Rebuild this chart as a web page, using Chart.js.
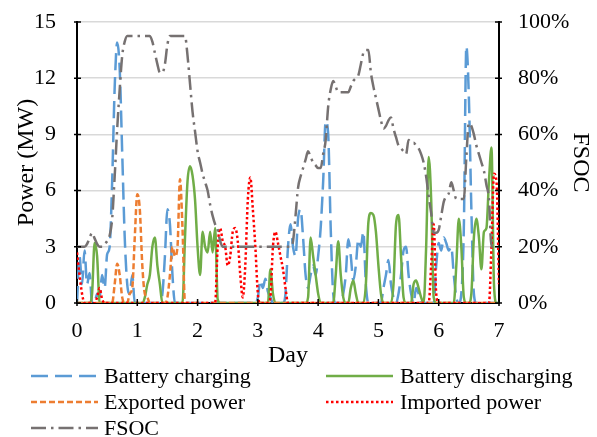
<!DOCTYPE html>
<html>
<head>
<meta charset="utf-8">
<script src="https://cdn.jsdelivr.net/npm/chart.js@4"></script>
<style>
  html, body { margin: 0; padding: 0; background: #fff; }
  #wrap { width: 597px; height: 437px; }
</style>
</head>
<body>
<div id="wrap"><canvas id="powerChart" width="597" height="437"></canvas></div>
<script>
// hourly values over one week, one row per day (last entry is hour 168)
const charging = [
  0, 2.5, 1.0, 2.8, 1.0, 1.6, 0, 0, 0.5, 0.3, 1.5, 0.8, 2.6, 3.0, 6.5, 11.5, 13.9, 12.5, 8.0, 3.5, 1.0, 0.5, 1.5, 0,
  0, 0, 0, 0, 0, 0, 0, 0, 0, 0, 0.5, 2.5, 5.0, 4.2, 1.5, 0, 0, 0, 0, 0, 0, 0, 0, 0,
  0, 0, 0, 0, 0, 0, 0, 0, 0, 0, 0, 0, 0, 0, 0, 0, 0, 0, 0, 0, 0, 0, 0, 0,
  0.3, 1.2, 0.8, 1.3, 0.6, 0.3, 0, 0, 0, 0, 0, 0.5, 3.0, 4.2, 3.0, 2.5, 4.5, 5.0, 3.5, 1.5, 0.8, 1.5, 2.0, 1.5,
  2.5, 4.0, 6.5, 9.7, 9.0, 4.0, 0.5, 0, 0, 0, 0.5, 1.5, 3.4, 2.5, 1.2, 2.0, 3.4, 3.0, 3.8, 1.0, 0, 0, 0, 0,
  0, 0, 0.8, 1.5, 2.3, 1.0, 0.3, 0, 0.5, 1.5, 2.8, 3.0, 1.5, 0.5, 0, 0.8, 0.5, 0, 0, 0, 0, 0, 0, 2.0,
  3.2, 2.8, 3.5, 3.2, 2.8, 3.0, 1.5, 0.3, 0, 0.5, 4.0, 13.7, 11.0, 5.0, 0.5, 0, 0, 0, 0, 0, 0, 0, 0, 0,
  0
];
const discharging = [
  0, 0, 0, 0, 0, 0, 0.5, 3.2, 2.5, 0, 0, 0, 0, 0, 0, 0, 0, 0, 0, 0, 0, 0, 0, 0,
  0, 0, 0, 0.3, 1.0, 1.5, 3.0, 3.5, 2.0, 1.0, 0, 0, 0, 0, 0, 0, 0, 0, 0, 3.5, 6.5, 7.3, 6.8, 5.5,
  3.0, 1.5, 3.8, 3.0, 2.7, 3.8, 2.7, 4.0, 0.2, 0, 0, 0, 0, 0, 0, 0, 0, 0, 0, 0, 0, 0, 0, 0,
  0, 0, 0, 0, 0, 1.8, 0.5, 0, 0, 0, 0, 0, 0, 0, 0, 0, 0, 0, 0, 0, 0.3, 3.5, 2.5, 1.5,
  0.5, 0, 0, 0, 0, 0, 0, 1.5, 3.3, 1.5, 0.3, 0, 0, 0.8, 1.2, 0.5, 0, 0, 0, 1.0, 4.3, 4.8, 4.7, 3.8,
  2.0, 0.5, 0, 0, 0, 0, 1.0, 4.2, 4.7, 2.5, 0.3, 0, 0, 0, 1.0, 1.2, 0.8, 0.3, 0, 3.0, 7.8, 5.5, 0.3, 0,
  0, 0, 0, 0, 0, 0, 0, 2.0, 4.5, 3.0, 0.3, 0, 0, 0.5, 3.5, 4.5, 3.5, 1.8, 3.8, 4.0, 6.5, 8.3, 1.0, 0,
  0
];
const exported = [
  0, 0, 0, 0, 0, 0, 0, 0, 0, 0, 0, 0, 0, 0, 0, 1.0, 2.1, 1.5, 0.3, 0, 0, 0.5, 0.8, 3.5,
  5.8, 5.0, 2.0, 0.5, 0.3, 0, 0, 0, 0, 0, 0, 0, 0.3, 1.5, 3.0, 2.5, 3.0, 6.6, 4.0, 0, 0, 0, 0, 0,
  0, 0, 0, 0, 0, 0, 0, 0, 0, 0, 0, 0, 0, 0, 0, 0, 0, 0, 0, 0, 0, 0, 0, 0,
  0, 0, 0, 0, 0, 0, 0, 0, 0, 0, 0, 0, 0, 0, 0, 0, 0, 0, 0, 0, 0, 0, 0, 0,
  0, 0, 0, 0, 0, 0, 0, 0, 0, 0, 0, 0, 0, 0, 0, 0, 0, 0, 0, 0, 0, 0, 0, 0,
  0, 0, 0, 0, 0, 0, 0, 0, 0, 0, 0, 0, 0, 0, 0, 0, 0, 0, 0, 0, 0, 0, 0, 0,
  0, 0, 0, 0, 0, 0, 0, 0, 0, 0, 0, 0, 0, 0, 0, 0, 0, 0, 0, 0, 0, 0, 0, 0,
  0
];
const imported = [
  2.7, 1.5, 0.5, 0, 0, 0, 0, 0, 0.3, 0.8, 0.2, 0, 0, 0, 0, 0, 0, 0, 0, 0, 0, 0, 0, 0,
  0, 0, 0, 0, 0, 0, 0, 0, 0, 0, 0, 0, 0, 0, 0, 0, 0, 0, 0, 0, 0, 0, 0, 0,
  0, 0, 0, 0, 0, 0, 0, 0, 3.0, 4.0, 3.3, 3.0, 2.0, 2.5, 3.8, 4.0, 3.3, 1.5, 0.3, 2.0, 5.5, 6.7, 5.0, 3.0,
  0.5, 0, 0, 0, 0, 0.3, 3.0, 3.8, 3.2, 2.5, 1.8, 0.8, 0, 0, 0, 0, 0, 0, 0, 0, 0, 0, 0, 0,
  0, 0, 0, 0, 0, 0, 0, 0, 0, 0, 0, 0, 0, 0, 0, 0, 0, 0, 0, 0, 0, 0, 0, 0,
  0, 0, 0, 0, 0, 0, 0, 0, 0, 0, 0, 0, 0, 0, 0, 0, 0, 0, 0, 0, 0, 2.0, 4.2, 0.5,
  0, 0, 0, 0, 0, 0, 0, 0, 0, 0, 0, 0, 0, 0, 0, 0, 0, 0, 0, 0, 0, 3.0, 6.9, 6.5,
  1.0
];
// state of charge, percent
const fsoc = [
  20, 20, 20, 20, 21, 23, 25, 23, 21, 20, 20, 21, 22, 24, 30, 45, 62, 76, 88, 93, 95, 95, 95, 95,
  95, 95, 95, 95, 95, 95, 93, 89, 85, 82, 82, 85, 92, 95, 95, 95, 95, 95, 95, 95, 88, 78, 68, 61,
  54, 50, 46, 43, 40, 35, 31, 28, 26, 22, 20, 20, 20, 20, 20, 20, 20, 20, 20, 20, 20, 20, 20, 20,
  20, 20, 20, 20, 20, 20, 20, 20, 20, 20, 20, 20, 20, 20, 22, 31, 41, 45, 48, 51, 54, 52, 50, 49,
  48, 48, 53, 58, 70, 76, 79, 77, 75, 75, 75, 75, 75, 77, 79, 80, 81, 85, 89, 90, 90, 82, 77, 73,
  69, 65, 62, 63, 65, 66, 62, 59, 56, 55, 54, 53, 58, 57, 57, 56, 55, 53, 50, 45, 38, 32, 25, 25,
  26, 31, 36, 38, 39, 43, 40, 37, 37, 37, 37, 52, 64, 63, 60, 56, 53, 50, 47, 42, 37, 20, 20, 20,
  20
];

const seriesNames = ['Battery charging', 'Battery discharging', 'Exported power', 'Imported power', 'FSOC'];
const colors = ['#5B9BD5', '#70AD47', '#ED7D31', '#FF0000', '#767171'];
const dashes = [[17, 7], [], [6, 3], [2.5, 2.5], [15, 5, 2.5, 5]];

const serif = "'Liberation Serif', 'Times New Roman', serif";
Chart.defaults.font.family = serif;
Chart.defaults.color = '#000';

// hour index -> day
const toPoints = arr => arr.map((v, i) => ({ x: i / 24, y: v }));

function line(idx, data, axis, order) {
  return {
    label: seriesNames[idx],
    data: toPoints(data),
    yAxisID: axis,
    borderColor: colors[idx],
    backgroundColor: colors[idx],
    borderWidth: 2.5,
    borderDash: dashes[idx],
    pointRadius: 0,
    cubicInterpolationMode: 'monotone',
    order: order
  };
}

// vertical axes: fixed width, no extra room above/below for labels
const fixWidth = w => s => {
  s.width = w;
  s.paddingTop = 0;
  s.paddingBottom = 0;
};

// short tick marks crossing each axis line
const tickMarks = {
  id: 'tickMarks',
  afterDraw(chart) {
    const { ctx, chartArea: a, scales } = chart;
    ctx.save();
    ctx.strokeStyle = '#000';
    ctx.lineWidth = 1.5;
    ctx.beginPath();
    scales.y.ticks.forEach(t => {
      const p = scales.y.getPixelForValue(t.value);
      ctx.moveTo(a.left - 3, p); ctx.lineTo(a.left + 4, p);
    });
    scales.y1.ticks.forEach(t => {
      const p = scales.y1.getPixelForValue(t.value);
      ctx.moveTo(a.right - 4, p); ctx.lineTo(a.right + 3, p);
    });
    scales.x.ticks.forEach(t => {
      const p = scales.x.getPixelForValue(t.value);
      ctx.moveTo(p, a.bottom - 4); ctx.lineTo(p, a.bottom + 3);
    });
    ctx.stroke();
    ctx.restore();
  }
};

// two-column legend under the axis title
const bottomLegend = {
  id: 'bottomLegend',
  afterDraw(chart) {
    const ctx = chart.ctx;
    const cols = [{ x0: 31, x1: 98, tx: 104 }, { x0: 326, x1: 393, tx: 400 }];
    const rows = [376, 402, 428];
    ctx.save();
    ctx.font = '22px ' + serif;
    ctx.textBaseline = 'middle';
    ctx.fillStyle = '#000';
    seriesNames.forEach((name, i) => {
      const c = cols[i % 2], y = rows[Math.floor(i / 2)];
      ctx.beginPath();
      ctx.strokeStyle = colors[i];
      ctx.lineWidth = 2.5;
      ctx.setLineDash(dashes[i]);
      ctx.moveTo(c.x0, y);
      ctx.lineTo(c.x1, y);
      ctx.stroke();
      ctx.setLineDash([]);
      ctx.fillText(name, c.tx, y + 1);
    });
    ctx.restore();
  }
};

new Chart(document.getElementById('powerChart'), {
  type: 'line',
  data: {
    datasets: [
      line(0, charging, 'y', 4),
      line(1, discharging, 'y', 3),
      line(2, exported, 'y', 2),
      line(3, imported, 'y', 1),
      line(4, fsoc, 'y1', 0)
    ]
  },
  options: {
    responsive: false,
    animation: false,
    layout: { padding: { top: 22, left: 0, right: 0, bottom: 0 } },
    plugins: { legend: { display: false }, tooltip: { enabled: false } },
    scales: {
      x: {
        type: 'linear',
        min: 0, max: 7,
        ticks: { stepSize: 1, padding: 15, font: { size: 22 } },
        grid: { display: false, drawTicks: false },
        border: { color: '#000', width: 2 },
        title: { display: true, text: 'Day', font: { size: 24 }, padding: { top: 0, bottom: 67 } },
        afterFit: s => { s.height = 134; }
      },
      y: {
        position: 'left',
        min: 0, max: 15,
        ticks: { stepSize: 3, padding: 21, font: { size: 22 } },
        grid: { color: '#D9D9D9', lineWidth: 1.5, drawTicks: false },
        border: { color: '#000', width: 2 },
        title: { display: true, text: 'Power (MW)', font: { size: 24 }, padding: { top: 12, bottom: 0 } },
        afterFit: fixWidth(77)
      },
      y1: {
        position: 'right',
        min: 0, max: 100,
        ticks: { stepSize: 20, padding: 19, font: { size: 22 }, callback: v => v + '%' },
        grid: { display: false, drawTicks: false },
        border: { color: '#000', width: 2 },
        title: { display: true, text: 'FSOC', font: { size: 24 }, padding: { top: 2, bottom: 0 } },
        afterFit: fixWidth(98)
      }
    }
  },
  plugins: [tickMarks, bottomLegend]
});
</script>
</body>
</html>
